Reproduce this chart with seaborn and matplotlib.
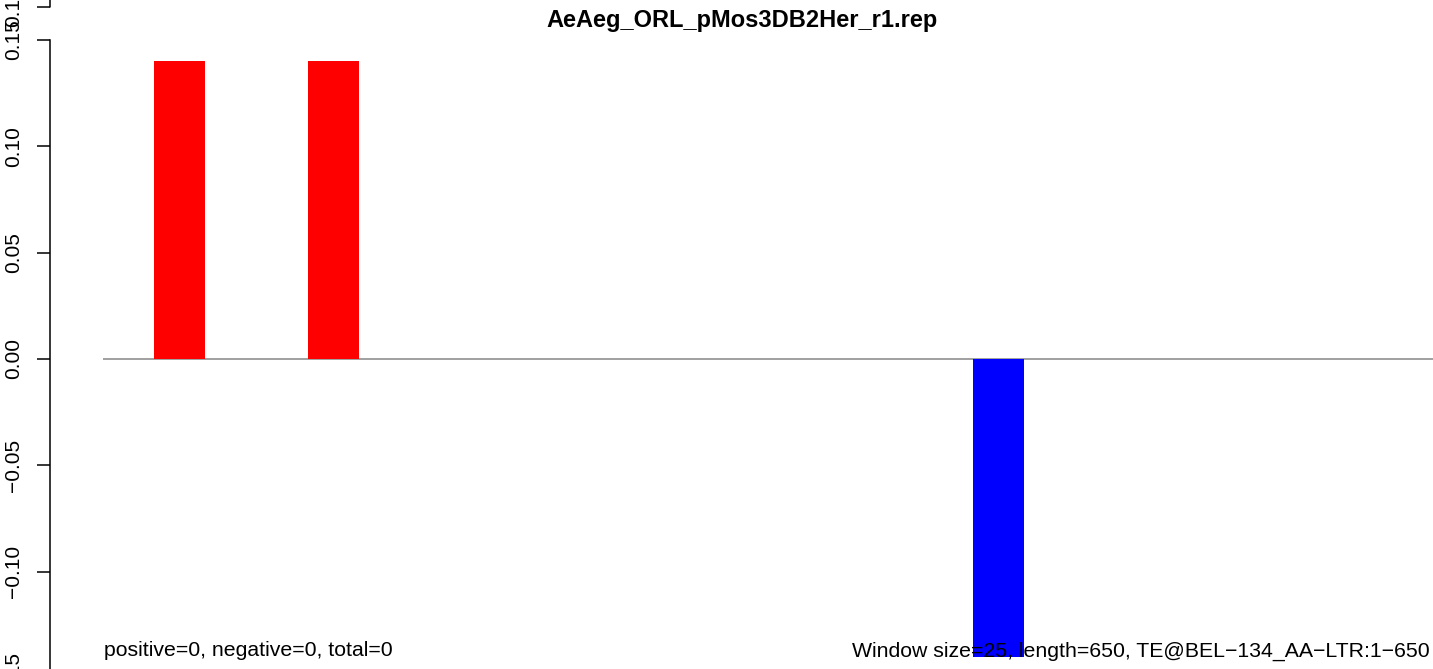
import numpy as np
import pandas as pd
import matplotlib
matplotlib.use("Agg")
import matplotlib.pyplot as plt
import seaborn as sns

# 26 windows of size 25 over a 650 bp element
window = list(range(26))
score = [0.0, 0.14, 0.0, 0.0, 0.14, 0.0, 0.0, 0.0, 0.0, 0.0, 0.0, 0.0, 0.0,
         0.0, 0.0, 0.0, 0.0, -0.14, 0.0, 0.0, 0.0, 0.0, 0.0, 0.0, 0.0, 0.0]
yticks = [-0.15, -0.10, -0.05, 0.00, 0.05, 0.10, 0.15]

title = "AeAeg_ORL_pMos3DB2Her_r1.rep"
left_note = "positive=0, negative=0, total=0"
right_note = "Window size=25, length=650, TE@BEL\u2212134_AA\u2212LTR:1\u2212650"

sns.set_theme(style="white")
plt.rcParams["font.family"] = ["Liberation Sans", "DejaVu Sans"]
plt.rcParams["text.color"] = "black"

df = pd.DataFrame({"window": window, "score": score})
df["sign"] = np.where(df["score"] >= 0, "pos", "neg")

W, H = 1433, 669
fig = plt.figure(figsize=(W / 100, H / 100), dpi=100)
ax = fig.add_axes([50 / W, -0.0453, 1 - 50 / W, 1.0492])

ax.hlines(0, -0.5, len(window) - 0.5, color="#999999", lw=1.3, zorder=1)
sns.barplot(data=df, x="window", y="score", hue="sign",
            palette={"pos": "#FF0000", "neg": "#0000FF"},
            width=1, saturation=1, dodge=False, legend=False,
            linewidth=0, ax=ax, zorder=2)

ax.set_xlim(-0.5 - 53 / 51.15, len(window) - 0.5)
ax.set_ylim(-0.16, 0.17)
ax.set_xticks([])
ax.set_xlabel("")
ax.set_ylabel("")

# y axis in R style
ax.set_yticks(yticks + [0.1655])
ax.set_yticklabels([f"{t:.2f}".replace("-", "\u2212") for t in yticks] + ["0.17"])
ax.tick_params(axis="y", left=True, length=9.4, width=1.1, pad=10,
               labelsize=15, labelrotation=90, color="black", labelcolor="black")
for lab in ax.get_yticklabels():
    lab.set_va("center")
for s in ["top", "right", "bottom"]:
    ax.spines[s].set_visible(False)
ax.spines["left"].set_bounds(yticks[0], yticks[-1])
ax.spines["left"].set_color("black")
ax.spines["left"].set_linewidth(1.1)
ax.plot([ax.get_xlim()[0]] * 2, [0.1655, 0.17], color="black", lw=1.1,
        clip_on=False)

fig.text(742 / W, 1 - 21 / H, title, ha="center", va="center",
         fontsize=17, fontweight="bold", color="black")
fig.text(104 / W, 1 - 651 / H, left_note, ha="left", va="center",
         fontsize=15.3, color="black")
fig.text(1430 / W, 1 - 651 / H, right_note, ha="right", va="center",
         fontsize=15.3, color="black")

fig.savefig("out.png", dpi=100)
